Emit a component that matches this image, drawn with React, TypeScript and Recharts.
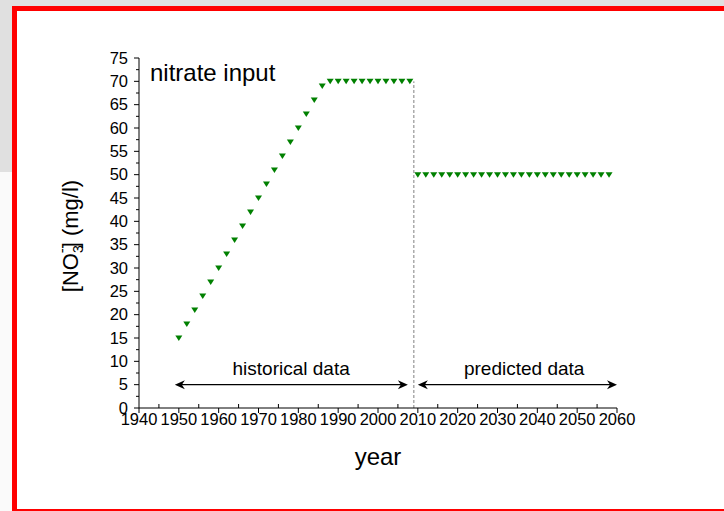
import { ScatterChart, Scatter, XAxis, YAxis, ReferenceLine, ReferenceDot } from "recharts";

const FONT = '"Liberation Sans", Arial, sans-serif';

// historical nitrate input (every 2 years)
const HIST_YEARS = [
  1950, 1952, 1954, 1956, 1958, 1960, 1962, 1964, 1966, 1968, 1970, 1972, 1974, 1976, 1978,
  1980, 1982, 1984, 1986, 1988, 1990, 1992, 1994, 1996, 1998, 2000, 2002, 2004, 2006, 2008,
];
const HIST_NO3 = [
  15, 18, 21, 24, 27, 30, 33, 36, 39, 42, 45, 48, 51, 54, 57,
  60, 63, 66, 69, 70, 70, 70, 70, 70, 70, 70, 70, 70, 70, 70,
];

// predicted nitrate input
const PRED_YEARS = [
  2010, 2012, 2014, 2016, 2018, 2020, 2022, 2024, 2026, 2028, 2030, 2032, 2034,
  2036, 2038, 2040, 2042, 2044, 2046, 2048, 2050, 2052, 2054, 2056, 2058,
];
const PRED_NO3 = [
  50, 50, 50, 50, 50, 50, 50, 50, 50, 50, 50, 50, 50,
  50, 50, 50, 50, 50, 50, 50, 50, 50, 50, 50, 50,
];

const X_TICKS = [
  1940, 1945, 1950, 1955, 1960, 1965, 1970, 1975, 1980, 1985, 1990, 1995, 2000,
  2005, 2010, 2015, 2020, 2025, 2030, 2035, 2040, 2045, 2050, 2055, 2060,
];
const Y_TICKS = [
  0, 2.5, 5, 7.5, 10, 12.5, 15, 17.5, 20, 22.5, 25, 27.5, 30, 32.5, 35, 37.5,
  40, 42.5, 45, 47.5, 50, 52.5, 55, 57.5, 60, 62.5, 65, 67.5, 70, 72.5, 75,
];

const histData = HIST_YEARS.map((x, i) => ({ x, y: HIST_NO3[i] }));
const predData = PRED_YEARS.map((x, i) => ({ x, y: PRED_NO3[i] }));

function DownTriangle(props: any) {
  const { cx, cy } = props;
  if (cx == null || cy == null) return null;
  return (
    <polygon
      points={`${cx - 3.5},${cy - 2.5} ${cx + 3.5},${cy - 2.5} ${cx},${cy + 3}`}
      fill="#008000"
    />
  );
}

function XTick(props: any) {
  const { x, y, payload } = props;
  const v = payload.value;
  if (v % 10 !== 0) {
    return <line x1={x} y1={y} x2={x} y2={y - 4} stroke="#000" />;
  }
  return (
    <g>
      <line x1={x} y1={y} x2={x} y2={y + 5} stroke="#000" />
      <text x={x} y={y + 17} textAnchor="middle" fontSize={16.5} fontFamily={FONT} fill="#000">
        {v}
      </text>
    </g>
  );
}

function YTick(props: any) {
  const { x, y, payload } = props;
  const v = payload.value;
  if (v % 5 !== 0) {
    return <line x1={x - 3} y1={y} x2={x} y2={y} stroke="#000" />;
  }
  return (
    <g>
      <line x1={x - 5} y1={y} x2={x} y2={y} stroke="#000" />
      <text x={x - 11} y={y + 5.5} textAnchor="end" fontSize={16.5} fontFamily={FONT} fill="#000">
        {v}
      </text>
    </g>
  );
}

function YLabel(props: any) {
  const vb = props.viewBox || { x: 69, y: 58, width: 70, height: 350 };
  const tx = vb.x + 9;
  const ty = vb.y + vb.height / 2 + 3;
  return (
    <text
      x={tx}
      y={ty}
      textAnchor="middle"
      transform={`rotate(-90, ${tx}, ${ty})`}
      fontSize={22}
      fontFamily={FONT}
      fill="#000"
    >
      [NO
      <tspan fontSize={14} dy={5}>3</tspan>
      <tspan fontSize={15} dx={-8} dy={-16}>-</tspan>
      <tspan dy={11}>] (mg/l)</tspan>
    </text>
  );
}

function Arrow(props: any) {
  const { x1, y1, x2, y2 } = props;
  const l = Math.min(x1, x2);
  const r = Math.max(x1, x2);
  const y = (y1 + y2) / 2;
  return (
    <g>
      <line x1={l + 4} y1={y} x2={r - 4} y2={y} stroke="#000" strokeWidth={1.4} />
      <polygon points={`${l},${y} ${l + 10},${y - 4.5} ${l + 7},${y} ${l + 10},${y + 4.5}`} fill="#000" />
      <polygon points={`${r},${y} ${r - 10},${y - 4.5} ${r - 7},${y} ${r - 10},${y + 4.5}`} fill="#000" />
    </g>
  );
}

export default function App() {
  return (
    <div
      style={{
        position: "absolute",
        left: 0,
        top: 0,
        width: 724,
        height: 511,
        overflow: "hidden",
        background: "#e0e0e0",
        fontFamily: FONT,
      }}
    >
      <div style={{ position: "absolute", left: 0, top: 172, width: 12, height: 339, background: "#fafafa" }} />
      <div
        style={{
          position: "absolute",
          left: 12,
          top: 6,
          width: 740,
          height: 505,
          boxSizing: "border-box",
          background: "#fff",
          borderLeft: "5px solid #ff0000",
          borderTop: "5px solid #ff0000",
          borderBottom: "2px solid #ff0000",
        }}
      />
      <div style={{ position: "absolute", left: 0, top: 0 }}>
        <ScatterChart width={724} height={511} margin={{ top: 58, right: 107, bottom: 33, left: 69 }}>
          <XAxis
            dataKey="x"
            type="number"
            domain={[1940, 2060]}
            ticks={X_TICKS}
            interval={0}
            tick={<XTick />}
            tickLine={false}
            tickSize={0}
            tickMargin={0}
            height={70}
            axisLine={{ stroke: "#000", strokeWidth: 1 }}
            label={{ value: "year", position: "insideBottom", offset: 13, fontSize: 24, fill: "#000", fontFamily: FONT }}
          />
          <YAxis
            dataKey="y"
            type="number"
            domain={[0, 75]}
            ticks={Y_TICKS}
            interval={0}
            tick={<YTick />}
            tickLine={false}
            tickSize={0}
            tickMargin={0}
            width={70}
            axisLine={{ stroke: "#000", strokeWidth: 1 }}
            label={{ content: YLabel }}
          />
          <ReferenceLine
            segment={[{ x: 2009, y: 0 }, { x: 2009, y: 70 }]}
            stroke="#808080"
            strokeDasharray="3 2"
          />
          <ReferenceLine segment={[{ x: 1949, y: 5 }, { x: 2007.5, y: 5 }]} shape={Arrow} />
          <ReferenceLine segment={[{ x: 2010, y: 5 }, { x: 2060, y: 5 }]} shape={Arrow} />
          <ReferenceDot
            x={1978.2}
            y={5}
            r={0}
            fill="none"
            stroke="none"
            label={{ value: "historical data", position: "top", offset: 10, fontSize: 19, fill: "#000", fontFamily: FONT }}
          />
          <ReferenceDot
            x={2036.7}
            y={5}
            r={0}
            fill="none"
            stroke="none"
            label={{ value: "predicted data", position: "top", offset: 10, fontSize: 19, fill: "#000", fontFamily: FONT }}
          />
          <ReferenceDot
            x={1942}
            y={72}
            r={0}
            fill="none"
            stroke="none"
            label={{ value: "nitrate input", position: "right", offset: 3, fontSize: 24, fill: "#000", fontFamily: FONT }}
          />
          <Scatter data={histData} shape={DownTriangle} fill="#008000" isAnimationActive={false} />
          <Scatter data={predData} shape={DownTriangle} fill="#008000" isAnimationActive={false} />
        </ScatterChart>
      </div>
    </div>
  );
}
